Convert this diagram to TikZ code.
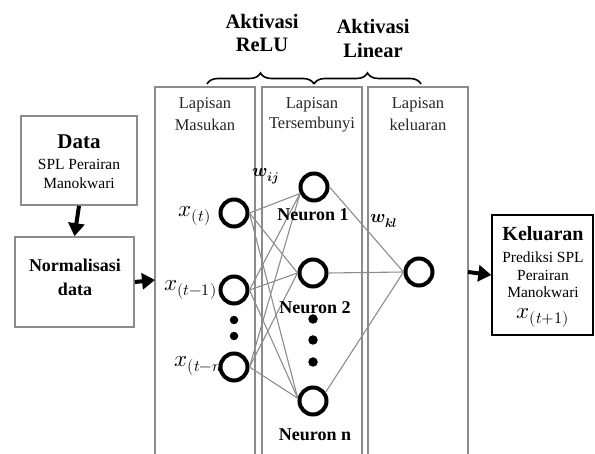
\documentclass[tikz,border=0pt]{standalone}
\usepackage{fontspec}
\usepackage{unicode-math}
\setmainfont{Liberation Serif}
\usetikzlibrary{arrows.meta,decorations.pathreplacing}
\begin{document}
\begin{tikzpicture}[x=1pt,y=-1pt,
  layerline/.style={draw=gray!90, line width=1.4pt},
  graybox/.style={draw=gray!90, line width=1.6pt, inner sep=0pt},
  blackbox/.style={draw=black, line width=1.4pt, inner sep=0pt},
  neuron/.style={circle, draw=black, line width=4pt, minimum size=27pt, inner sep=0pt, fill=white},
  conn/.style={draw=gray!90, line width=1.1pt},
  bigarrow/.style={line width=4pt, -{Triangle[length=13pt,width=16pt]}},
  bigdot/.style={circle, fill=black, minimum size=9.5pt, inner sep=0pt},
  smalldot/.style={circle, fill=black, minimum size=8.5pt, inner sep=0pt},
  layertxt/.style={font=\fontsize{16.5}{19}\selectfont, text=black!85, inner sep=0pt},
  bracetxt/.style={font=\fontsize{20.5}{23}\selectfont\bfseries, inner sep=0pt},
  neurtxt/.style={font=\fontsize{18}{20}\selectfont\bfseries, inner sep=0pt},
  smalltxt/.style={font=\fontsize{15.5}{17}\selectfont, inner sep=0pt},
  inlbl/.style={font=\fontsize{23}{25}\selectfont, anchor=east, inner sep=0pt},
  brc/.style={decorate, decoration={brace, amplitude=11pt}, line width=1.6pt}
]
\useasboundingbox (0,0) rectangle (595,454);

% layer boxes
\draw[layerline] (155,454) -- (155,87) -- (255,87) -- (255,454);
\draw[layerline] (262,454) -- (262,87) -- (362,87) -- (362,454);
\draw[layerline] (368,454) -- (368,87) -- (468,87) -- (468,454);

\node[layertxt] (l1a) at (205,105) {Lapisan};
\node[layertxt] (l1b) at (205,125) {Masukan};
\node[layertxt] (l2a) at (312,105) {Lapisan};
\node[layertxt] (l2b) at (312,125) {Tersembunyi};
\node[layertxt] (l3a) at (418,105) {Lapisan};
\node[layertxt] (l3b) at (418,125) {keluaran};

% braces
\draw[brc] (207,84) -- (314,84);
\draw[brc] (314,84) -- (421,84);
\node[bracetxt] (a1a) at (262,21) {Aktivasi};
\node[bracetxt] (a1b) at (262,45) {ReLU};
\node[bracetxt] (a2a) at (373,26) {Aktivasi};
\node[bracetxt] (a2b) at (373,50) {Linear};

% left boxes
\node[graybox, minimum width=116pt, minimum height=89pt] (data) at (79,160.5) {};
\node[font=\fontsize{21}{23}\selectfont\bfseries, inner sep=0pt] (dt1) at (79,142) {Data};
\node[smalltxt] (dt2) at (79,164) {SPL Perairan};
\node[smalltxt] (dt3) at (79,183) {Manokwari};

\node[graybox, minimum width=119pt, minimum height=90pt] (norm) at (74.5,282) {};
\node[font=\fontsize{18}{20}\selectfont\bfseries, inner sep=0pt] (nt1) at (75,265) {Normalisasi};
\node[font=\fontsize{18}{20}\selectfont\bfseries, inner sep=0pt] (nt2) at (75,289) {data};

\coordinate (inleft) at (155,280);
\draw[bigarrow] (data.south) -- (norm.north);
\draw[bigarrow] (norm.east) -- (inleft);

% input neurons
\node[neuron] (i1) at (234,213) {};
\node[neuron] (i2) at (234,290) {};
\node[smalldot] (id1) at (234,320) {};
\node[smalldot] (id2) at (234,336) {};

% hidden neurons
\node[neuron] (h1) at (314,187) {};
\node[neuron] (h2) at (313,273) {};
\node[neuron] (h3) at (313,401) {};
\node[bigdot] (hd1) at (313,319) {};
\node[bigdot] (hd2) at (313,340) {};
\node[bigdot] (hd3) at (313,362) {};

% output neuron
\node[neuron] (o1) at (419,272) {};

% input labels (x_(t-n) is partly hidden by its circle)
\node[inlbl] (x1) at (211,216) {$x_{(t)}$};
\node[inlbl] (x2) at (217,290) {$x_{(t-1)}$};
\node[inlbl] (x3) at (229,366) {$x_{(t-n)}$};
\node[neuron] (i3) at (234,367) {};

% connections input -> hidden
\foreach \a in {i1,i2,i3}{
  \draw[conn] (\a.east) -- (h1.205);
  \draw[conn] (\a.east) -- (h2.west);
  \draw[conn] (\a.east) -- (h3.170);
}
% hidden -> output
\draw[conn] (h1.east) -- (o1.west);
\draw[conn] (h2.east) -- (o1.west);
\draw[conn] (h3.35) -- (o1.west);

% neuron labels
\node[neurtxt] (n1) at (313,215) {Neuron 1};
\node[neurtxt] (n2) at (315,308) {Neuron 2};
\node[neurtxt] (n3) at (315,435) {Neuron n};

% weight labels
\node[font=\fontsize{18}{20}\selectfont, inner sep=0pt] (wij) at (266,176) {$\symbfit{w}_{\symbfit{ij}}$};
\node[font=\fontsize{18}{20}\selectfont, inner sep=0pt] (wkl) at (384,221) {$\symbfit{w}_{\symbfit{kl}}$};

% output box
\node[blackbox, minimum width=101pt, minimum height=120pt] (out) at (542.5,275) {};
\node[font=\fontsize{20}{22}\selectfont\bfseries, inner sep=0pt] (ot1) at (543,234) {Keluaran};
\node[smalltxt] (ot2) at (543,257) {Prediksi SPL};
\node[smalltxt] (ot3) at (543,275) {Perairan};
\node[smalltxt] (ot4) at (543,292) {Manokwari};
\node[font=\fontsize{23}{25}\selectfont, inner sep=0pt] (ot5) at (543,318) {$x_{(t+1)}$};
\draw[bigarrow] (468,272) -- (out.west);
\end{tikzpicture}
\end{document}
